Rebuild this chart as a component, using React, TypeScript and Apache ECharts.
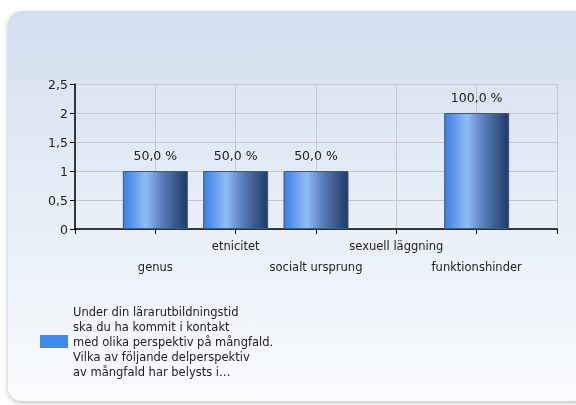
import React, { useEffect, useRef } from "react";
import * as echarts from "echarts";

const categories = ["", "genus", "etnicitet", "socialt ursprung", "sexuell läggning", "funktionshinder", ""];
const values: (number | null)[] = [null, 1, 1, 1, null, 2, null];
const percentLabels = ["", "50,0 %", "50,0 %", "50,0 %", "", "100,0 %", ""];
const yTicks = [0, 0.5, 1, 1.5, 2, 2.5];
const seriesName =
  "Under din lärarutbildningstid\nska du ha kommit i kontakt\nmed olika perspektiv på mångfald.\nVilka av följande delperspektiv\nav mångfald har belysts i…";

export default function App() {
  const ref = useRef<HTMLDivElement>(null);
  useEffect(() => {
    if (!ref.current) return;
    const chart = echarts.init(ref.current, undefined, { renderer: "svg" });
    const font = "DejaVu Sans";
    chart.setOption({
      animation: false,
      textStyle: { fontFamily: font },
      graphic: [
        {
          type: "rect",
          z: -10,
          shape: { x: 8, y: 11, width: 580, height: 390, r: 14 },
          style: {
            fill: new echarts.graphic.LinearGradient(0, 0, 0, 1, [
              { offset: 0, color: "#d3dff0" },
              { offset: 1, color: "#fafcfe" },
            ]),
            shadowBlur: 5,
            shadowOffsetY: 2,
            shadowColor: "rgba(0,0,0,0.25)",
          },
        },
      ],
      grid: { left: 75, right: 19, top: 84, bottom: 176, containLabel: false },
      legend: {
        show: true,
        left: 35,
        top: 299,
        itemWidth: 28,
        itemHeight: 13,
        icon: "rect",
        textStyle: { fontFamily: font, fontSize: 11.5, color: "#222", lineHeight: 15 },
        data: [{ name: seriesName, itemStyle: { color: "#3f88ec", borderWidth: 0 } }],
      },
      xAxis: {
        type: "category",
        data: categories,
        boundaryGap: false,
        axisLine: { lineStyle: { color: "#000", width: 1.5 } },
        axisTick: { show: true, length: 5, interval: 0, lineStyle: { color: "#000" } },
        splitLine: { show: true, interval: 0, lineStyle: { color: "#c4c8d0" } },
        axisLabel: {
          interval: 0,
          margin: 6,
          fontFamily: font,
          fontSize: 11.5,
          color: "#222",
          lineHeight: 21,
          formatter: (v: string, i: number) => (i % 2 === 1 ? "\n" + v : v),
        },
      },
      yAxis: {
        type: "value",
        min: 0,
        max: 2.5,
        interval: 0.5,
        axisLine: { show: true, lineStyle: { color: "#000", width: 1.5 } },
        axisTick: { show: true, length: 5, lineStyle: { color: "#000" } },
        splitLine: { show: true, lineStyle: { color: "#c4c8d0" } },
        axisLabel: {
          margin: 7,
          fontFamily: font,
          fontSize: 12.5,
          color: "#222",
          formatter: (v: number) => (yTicks.includes(v) ? String(v).replace(".", ",") : ""),
        },
      },
      series: [
        {
          name: seriesName,
          type: "bar",
          data: values,
          barWidth: 65,
          itemStyle: {
            color: new echarts.graphic.LinearGradient(0, 0, 1, 0, [
              { offset: 0, color: "#3a80e2" },
              { offset: 0.35, color: "#8fbcf5" },
              { offset: 0.6, color: "#5a7fb8" },
              { offset: 1, color: "#1f3a66" },
            ]),
            borderColor: "#3a5a85",
            borderWidth: 1,
          },
          label: {
            show: true,
            position: "top",
            distance: 9,
            fontFamily: font,
            fontSize: 12.5,
            color: "#222",
            formatter: (p: any) => percentLabels[p.dataIndex],
          },
        },
      ],
    });
    return () => chart.dispose();
  }, []);
  return (
    <div
      ref={ref}
      style={{ position: "fixed", left: 0, top: 0, width: 576, height: 405 }}
    />
  );
}
